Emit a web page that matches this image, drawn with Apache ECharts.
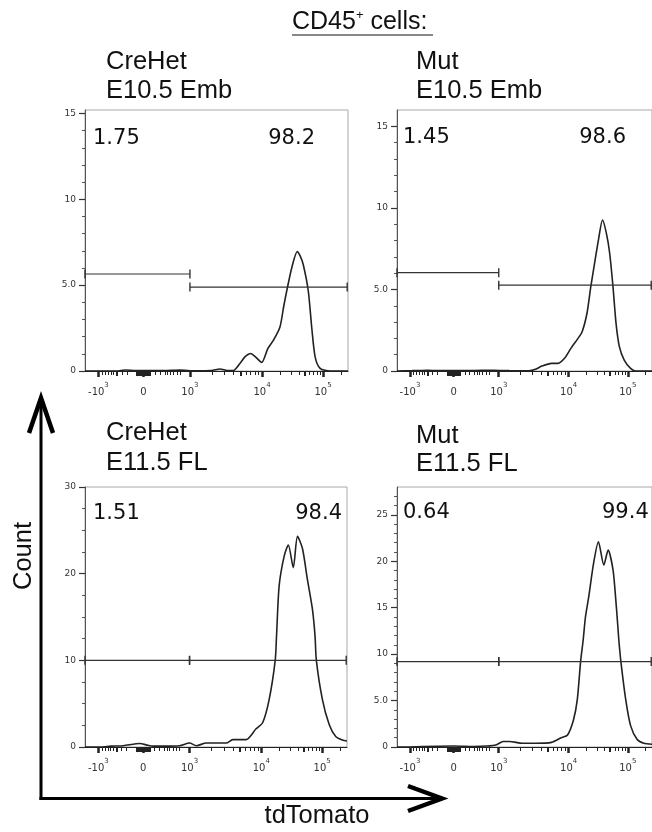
<!DOCTYPE html>
<html><head><meta charset="utf-8">
<script src="https://cdn.jsdelivr.net/npm/echarts@6/dist/echarts.min.js"></script>
<style>html,body{margin:0;padding:0;background:#fff}#c{width:652px;height:832px}</style>
</head><body><div id="c"></div>
<script>
// ---------- data (x in display channel units 0..1000 of a biexponential axis) ----------
const xMajorTicks = [51, 222, 399, 673, 905];
const xMajorBase  = ['-10', '0', '10', '10', '10'];
const xMajorExp   = ['3', '', '3', '4', '5'];
const xMinorTicks = [64, 76, 89, 98, 108, 140, 159, 266, 285, 304, 313, 323, 336, 349, 361,
                     482, 530, 564, 612, 630, 646, 660, 743, 784, 813, 854, 869, 883, 894, 975];
const xMidTicks   = [121, 198, 204, 210, 216, 228, 234, 240, 246, 591, 835];

const genotypes = ['CreHet', 'Mut', 'CreHet', 'Mut'];
const stages    = ['E10.5 Emb', 'E10.5 Emb', 'E11.5 FL', 'E11.5 FL'];
const pctLeft   = ['1.75', '1.45', '1.51', '0.64'];
const pctRight  = ['98.2', '98.6', '98.4', '99.4'];

const yMax         = [15.2, 16, 30, 28];
const yMajorTicks  = [[0, 5, 10, 15], [0, 5, 10, 15], [0, 10, 20, 30], [0, 5, 10, 15, 20, 25]];
const yMajorLabels = [['0', '5.0', '10', '15'], ['0', '5.0', '10', '15'], ['0', '10', '20', '30'],
                      ['0', '5.0', '10', '15', '20', '25']];
const yMinorTicks  = [
  [1, 2, 3, 4, 6, 7, 8, 9, 11, 12, 13, 14],
  [1, 2, 3, 4, 6, 7, 8, 9, 11, 12, 13, 14],
  [2.5, 5, 7.5, 12.5, 15, 17.5, 22.5, 25, 27.5],
  [1, 2, 3, 4, 6, 7, 8, 9, 11, 12, 13, 14, 16, 17, 18, 19, 21, 22, 23, 24, 26, 27]
];

const gateSplit  = [0, 399, 997];
const gateLevels = [[5.65, 4.89], [6.03, 5.26], [10, 10], [9.2, 9.2]];

const curveCreHetEmb = [[0,0],[120,0],[152,0.06],[190,0.03],[300,0.02],[360,0.05],[420,0.01],[480,0.02],
  [513,0.12],[540,0.03],[564,0.02],[589,0.44],[610,0.85],[630,1.02],[650,0.8],[672,0.5],[695,1.3],
  [716,1.78],[741,2.55],[756,3.8],[767,4.66],[786,6.0],[807,6.95],[818,6.7],[830,6.19],[849,4.66],
  [862,2.55],[875,0.82],[894,0.15],[932,0],[1000,0]];
const curveMutEmb = [[0,0],[60,0.02],[120,0.05],[180,0.02],[300,0.03],[380,0.05],[440,0.02],[517,0.01],
  [543,0.1],[568,0.3],[606,0.47],[631,0.47],[657,0.78],[682,1.39],[707,1.94],[726,2.41],[745,3.54],
  [760,5.17],[777,6.81],[790,8.04],[806,9.26],[821,8.45],[834,7.22],[847,5.17],[859,2.92],[872,1.49],
  [891,0.67],[916,0.16],[935,0],[1000,0]];
const curveCreHetFL = [[0,0],[57,0],[100,0.1],[146,0.15],[209,0.4],[240,0.2],[260,0.1],[300,0.1],
  [361,0.15],[399,0.46],[425,0.15],[463,0.46],[539,0.46],[564,0.85],[589,0.85],[615,0.85],[653,2.1],
  [678,2.8],[703,5.5],[726,10],[731,12.8],[741,18.6],[760,22],[776,23.3],[795,20.7],[811,24.3],
  [830,22.9],[849,19.3],[868,15.9],[878,12.8],[883,10],[906,5.5],[932,2.6],[957,1.2],[982,0.8],[1000,0.7]];
const curveMutFL = [[0,0],[36,0],[100,0.05],[226,0.1],[300,0.05],[352,0.1],[390,0.25],[416,0.6],
  [441,0.6],[492,0.4],[543,0.4],[606,0.5],[644,1.0],[669,1.3],[692,2.9],[707,5.1],[720,9.2],[730,11.5],
  [739,14.0],[752,16.2],[771,19.8],[790,22.1],[811,19.6],[828,21.2],[847,19.1],[857,16.2],[866,13.0],
  [870,11.5],[878,9.2],[897,5.1],[916,2.3],[942,0.8],[968,0.4],[1000,0.3]];
const curves = [curveCreHetEmb, curveMutEmb, curveCreHetFL, curveMutFL];

// ---------- layout ----------
const grids = [
  {left: 85,  top: 110, width: 263, height: 261},
  {left: 397, top: 110, width: 263, height: 261},
  {left: 85,  top: 487, width: 262, height: 260},
  {left: 397, top: 487, width: 263, height: 260}
];
const labelPos = [
  {x: 106, y1: 62, y2: 91, pl: [93, 139], pr: [315, 139], prAlign: 'right'},
  {x: 416, y1: 62, y2: 91, pl: [403, 138], pr: [626, 138], prAlign: 'right'},
  {x: 106, y1: 433, y2: 463, pl: [93, 514], pr: [342, 514], prAlign: 'right'},
  {x: 416, y1: 436, y2: 464, pl: [403, 513], pr: [602, 513], prAlign: 'left'}
];

const INK = '#222';
const BIG = 25.5;
const xAxes = [], yAxes = [], series = [], graphic = [];
grids.forEach((g, i) => {
  g.show = true; g.borderColor = '#a8a8a8'; g.borderWidth = 1; g.containLabel = false;
  xAxes.push({
    gridIndex: i, type: 'value', min: 0, max: 1000, position: 'bottom',
    axisLine: {show: true, lineStyle: {color: INK, width: 1.2}},
    splitLine: {show: false},
    axisTick: {show: true, customValues: xMajorTicks, length: 6, lineStyle: {color: INK, width: 2.5}},
    axisLabel: {
      show: true, customValues: xMajorTicks, margin: 11,
      formatter: v => {
        const k = xMajorTicks.indexOf(v);
        if (k < 0) return '';
        return '{b|' + xMajorBase[k] + '}' + (xMajorExp[k] ? '{s|' + xMajorExp[k] + '}' : '');
      },
      rich: {
        b: {fontFamily: 'DejaVu Sans', fontSize: 10, lineHeight: 15, color: '#333', verticalAlign: 'bottom'},
        s: {fontFamily: 'DejaVu Sans', fontSize: 7, lineHeight: 7, color: '#333', verticalAlign: 'top'}
      }
    }
  });
  xAxes.push({
    gridIndex: i, type: 'value', min: 0, max: 1000, position: 'bottom',
    axisLine: {show: false}, splitLine: {show: false}, axisLabel: {show: false},
    axisTick: {show: true, customValues: xMinorTicks, length: 4, lineStyle: {color: INK, width: 1}}
  });
  xAxes.push({
    gridIndex: i, type: 'value', min: 0, max: 1000, position: 'bottom',
    axisLine: {show: false}, splitLine: {show: false}, axisLabel: {show: false},
    axisTick: {show: true, customValues: xMidTicks, length: 5, lineStyle: {color: INK, width: 2}}
  });
  yAxes.push({
    gridIndex: i, type: 'value', min: 0, max: yMax[i], position: 'left',
    axisLine: {show: true, lineStyle: {color: '#555', width: 1}},
    splitLine: {show: false},
    axisTick: {show: true, customValues: yMajorTicks[i], length: 6, lineStyle: {color: '#333', width: 1.2}},
    axisLabel: {
      show: true, customValues: yMajorTicks[i], margin: 9,
      fontFamily: 'DejaVu Sans', fontSize: 9, color: '#333',
      formatter: v => { const k = yMajorTicks[i].indexOf(v); return k < 0 ? '' : yMajorLabels[i][k]; }
    }
  });
  yAxes.push({
    gridIndex: i, type: 'value', min: 0, max: yMax[i], position: 'left',
    axisLine: {show: false}, splitLine: {show: false}, axisLabel: {show: false},
    axisTick: {show: true, customValues: yMinorTicks[i], length: 3, lineStyle: {color: '#555', width: 1}}
  });

  series.push({
    type: 'line', xAxisIndex: 3 * i, yAxisIndex: 2 * i, data: curves[i],
    showSymbol: false, symbol: 'none', smooth: 0.25, silent: true, z: 3,
    lineStyle: {color: '#222', width: 1.6}
  });
  series.push({
    type: 'line', xAxisIndex: 3 * i, yAxisIndex: 2 * i,
    data: [[gateSplit[0], gateLevels[i][0]], [gateSplit[1], gateLevels[i][0]]],
    symbol: 'rect', symbolSize: [1.4, 9], showSymbol: true, showAllSymbol: true, silent: true, z: 4,
    itemStyle: {color: '#333'}, lineStyle: {color: '#333', width: 1.2}
  });
  series.push({
    type: 'line', xAxisIndex: 3 * i, yAxisIndex: 2 * i,
    data: [[gateSplit[1], gateLevels[i][1]], [gateSplit[2], gateLevels[i][1]]],
    symbol: 'rect', symbolSize: [1.4, 9], showSymbol: true, showAllSymbol: true, silent: true, z: 4,
    itemStyle: {color: '#333'}, lineStyle: {color: '#333', width: 1.2}
  });

  const L = labelPos[i];
  const big = {fontFamily: 'Liberation Sans', fontSize: BIG, fill: '#111', align: 'left', verticalAlign: 'middle'};
  graphic.push({type: 'text', x: L.x, y: L.y1, style: Object.assign({text: genotypes[i]}, big)});
  graphic.push({type: 'text', x: L.x, y: L.y2, style: Object.assign({text: stages[i]}, big)});
  const pct = {fontFamily: 'DejaVu Sans', fontSize: 21, fill: '#111', verticalAlign: 'middle'};
  graphic.push({type: 'text', x: L.pl[0], y: L.pl[1], z: 10, style: Object.assign({text: pctLeft[i], align: 'left'}, pct)});
  graphic.push({type: 'text', x: L.pr[0], y: L.pr[1], z: 10, style: Object.assign({text: pctRight[i], align: L.prAlign}, pct)});
});

// title underline, axis arrows and axis names
graphic.push({type: 'line', shape: {x1: 292, y1: 35, x2: 433, y2: 35}, style: {stroke: '#111', lineWidth: 1.2}});
graphic.push({type: 'line', shape: {x1: 41, y1: 800, x2: 41, y2: 399}, style: {stroke: '#000', lineWidth: 3}});
graphic.push({type: 'polyline', shape: {points: [[29, 433], [41, 398], [53, 433]]},
  style: {stroke: '#000', lineWidth: 4.5, fill: null, lineJoin: 'miter'}});
graphic.push({type: 'line', shape: {x1: 39.5, y1: 798.5, x2: 441, y2: 798.5}, style: {stroke: '#000', lineWidth: 3}});
graphic.push({type: 'polyline', shape: {points: [[408, 786], [442, 798.5], [408, 811]]},
  style: {stroke: '#000', lineWidth: 4.5, fill: null, lineJoin: 'miter'}});
graphic.push({type: 'text', x: 24, y: 556, rotation: Math.PI / 2,
  style: {text: 'Count', fontFamily: 'Liberation Sans', fontSize: BIG, fill: '#111', align: 'center', verticalAlign: 'middle'}});
graphic.push({type: 'text', x: 317, y: 816,
  style: {text: 'tdTomato', fontFamily: 'Liberation Sans', fontSize: BIG, fill: '#111', align: 'center', verticalAlign: 'middle'}});

const chart = echarts.init(document.getElementById('c'), null, {renderer: 'canvas'});
chart.setOption({
  animation: false,
  backgroundColor: '#fff',
  title: {
    text: '{a|CD45}{s|+}{a| cells:}', left: 292, top: 9, padding: 0,
    textStyle: {fontWeight: 'normal', rich: {
      a: {fontFamily: 'Liberation Sans', fontSize: 25, fontWeight: 'normal', color: '#111', lineHeight: 26, verticalAlign: 'bottom'},
      s: {fontFamily: 'Liberation Sans', fontSize: 13, fontWeight: 'normal', color: '#111', lineHeight: 12, verticalAlign: 'top'}
    }}
  },
  grid: grids,
  xAxis: xAxes,
  yAxis: yAxes,
  series: series,
  graphic: graphic
});
</script>
</body></html>
